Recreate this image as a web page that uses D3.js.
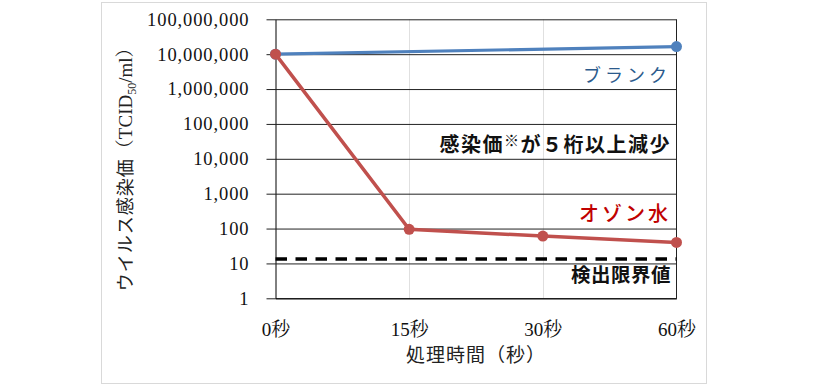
<!DOCTYPE html>
<html><head><meta charset="utf-8">
<script src="https://cdn.jsdelivr.net/npm/d3@7"></script>
<style>
body{margin:0;background:#fff;}
svg{display:block;}
</style></head>
<body><svg id="c" width="817" height="386"></svg>
<script>
const categories = ["0秒","15秒","30秒","60秒"];
const blank = [1.0e7, null, null, 1.65e7];
const ozone = [1.0e7, 95, 61, 40];
const limit = [13.5, 13.5, 13.5, 13.5];
const yTicks = [1,10,100,1000,1e4,1e5,1e6,1e7,1e8];
const yTitle = "ウイルス感染価";
const xTitle = "処理時間（秒）";

const svg = d3.select("#c");
const serif = "'Liberation Serif','Noto Serif CJK JP','Noto Sans CJK JP',serif";
const jp = "'Noto Sans CJK JP',sans-serif";

svg.append("rect").attr("x",101.5).attr("y",2.5).attr("width",605).attr("height",381)
  .attr("fill","#fff").attr("stroke","#d9d9d9");

const L=275.5, R=676.5, T=19.3, B=298.3;
const x = d3.scalePoint().domain(categories).range([L,R]).padding(0);
const y = d3.scaleLog().domain([1,1e8]).range([B,T]);

// vertical light gridlines
svg.append("g").selectAll("line").data(categories.slice(1,3)).join("line")
  .attr("x1",d=>Math.round(x(d))+0.5).attr("x2",d=>Math.round(x(d))+0.5)
  .attr("y1",T).attr("y2",B).attr("stroke","#e0e0e0").attr("stroke-width",1);

// y axis with gridlines
const yAxis = d3.axisLeft(y).tickValues(yTicks).tickFormat(d3.format(","))
  .tickSize(-(R-L)).tickSizeOuter(0).tickPadding(18);
const gy = svg.append("g").attr("transform",`translate(${L},0)`).call(yAxis);
gy.select(".domain").attr("stroke","#000");
gy.selectAll(".tick line").attr("stroke","#222").attr("x1",-9);
gy.selectAll(".tick text").attr("font-family",serif).attr("font-size",18.5)
  .attr("letter-spacing","0.9px").attr("fill","#111").attr("x",-26);

// right border
svg.append("line").attr("x1",R).attr("x2",R).attr("y1",T).attr("y2",B).attr("stroke","#222");

// x axis
const xAxis = d3.axisBottom(x).tickSize(0).tickPadding(24);
const gx = svg.append("g").attr("transform",`translate(0,${B})`).call(xAxis);
gx.select(".domain").attr("stroke","#000");
gx.selectAll(".tick text").attr("font-family",serif).attr("font-size",19).attr("fill","#111");

// detection limit dashed
const line = d3.line().defined(d=>d.v!=null).x(d=>x(d.c)).y(d=>y(d.v));
svg.append("path").datum(categories.map((c,i)=>({c,v:limit[i]})))
  .attr("d",d3.line().x(d=>x(d.c)).y(d=>y(d.v))).attr("fill","none")
  .attr("stroke","#000").attr("stroke-width",3.5).attr("stroke-dasharray","11.5,8.5");

// blank series (gaps connected)
const blankPts = categories.map((c,i)=>({c,v:blank[i]})).filter(d=>d.v!=null);
svg.append("path").datum(blankPts).attr("d",line).attr("fill","none")
  .attr("stroke","#4f81bd").attr("stroke-width",3.2);
svg.append("g").selectAll("circle").data(blankPts).join("circle")
  .attr("cx",d=>x(d.c)).attr("cy",d=>y(d.v)).attr("r",5.5).attr("fill","#4f81bd");

// ozone series
const ozPts = categories.map((c,i)=>({c,v:ozone[i]}));
svg.append("path").datum(ozPts).attr("d",line).attr("fill","none")
  .attr("stroke","#c0504d").attr("stroke-width",3.5);
svg.append("g").selectAll("circle").data(ozPts).join("circle")
  .attr("cx",d=>x(d.c)).attr("cy",d=>y(d.v)).attr("r",5.5).attr("fill","#c0504d");

// annotations
function ann(txt,yy,color,size,weight,ls){
  return svg.append("text").attr("x",671).attr("y",yy).attr("text-anchor","end")
    .attr("font-family",jp).attr("font-size",size).attr("font-weight",weight)
    .attr("fill",color).attr("letter-spacing",ls).text(txt);
}
ann("ブランク",82,"#2b5a8c",18,400,"4px");
const t2 = svg.append("text").attr("x",671).attr("y",152).attr("text-anchor","end")
  .attr("font-family",jp).attr("font-size",20).attr("font-weight",700).attr("fill","#111")
  .attr("letter-spacing","1.5px");
t2.append("tspan").text("感染価");
t2.append("tspan").attr("font-size",15).attr("dy",-6).text("※");
t2.append("tspan").attr("dy",6).text("が５桁以上減少");
ann("オゾン水",221,"#c00000",20,500,"3px");
ann("検出限界値",282,"#111",19.5,700,"0.5px");

// axis titles
svg.append("text").attr("x",476).attr("y",362).attr("text-anchor","middle")
  .attr("font-family",jp).attr("font-size",19).attr("fill","#222").attr("letter-spacing","1px").text(xTitle);
const yt = svg.append("text").attr("transform",`translate(132,${(T+B)/2+6}) rotate(-90)`)
  .attr("text-anchor","middle").attr("font-family",jp).attr("font-size",18).attr("fill","#222");
yt.append("tspan").attr("letter-spacing","1px").text(yTitle);
yt.append("tspan").attr("font-family",serif).attr("font-size",19).text("（TCID");
yt.append("tspan").attr("font-family",serif).attr("font-size",12).attr("dy",4).text("50");
yt.append("tspan").attr("font-family",serif).attr("font-size",19).attr("dy",-4).text("/ml）");
</script></body></html>
